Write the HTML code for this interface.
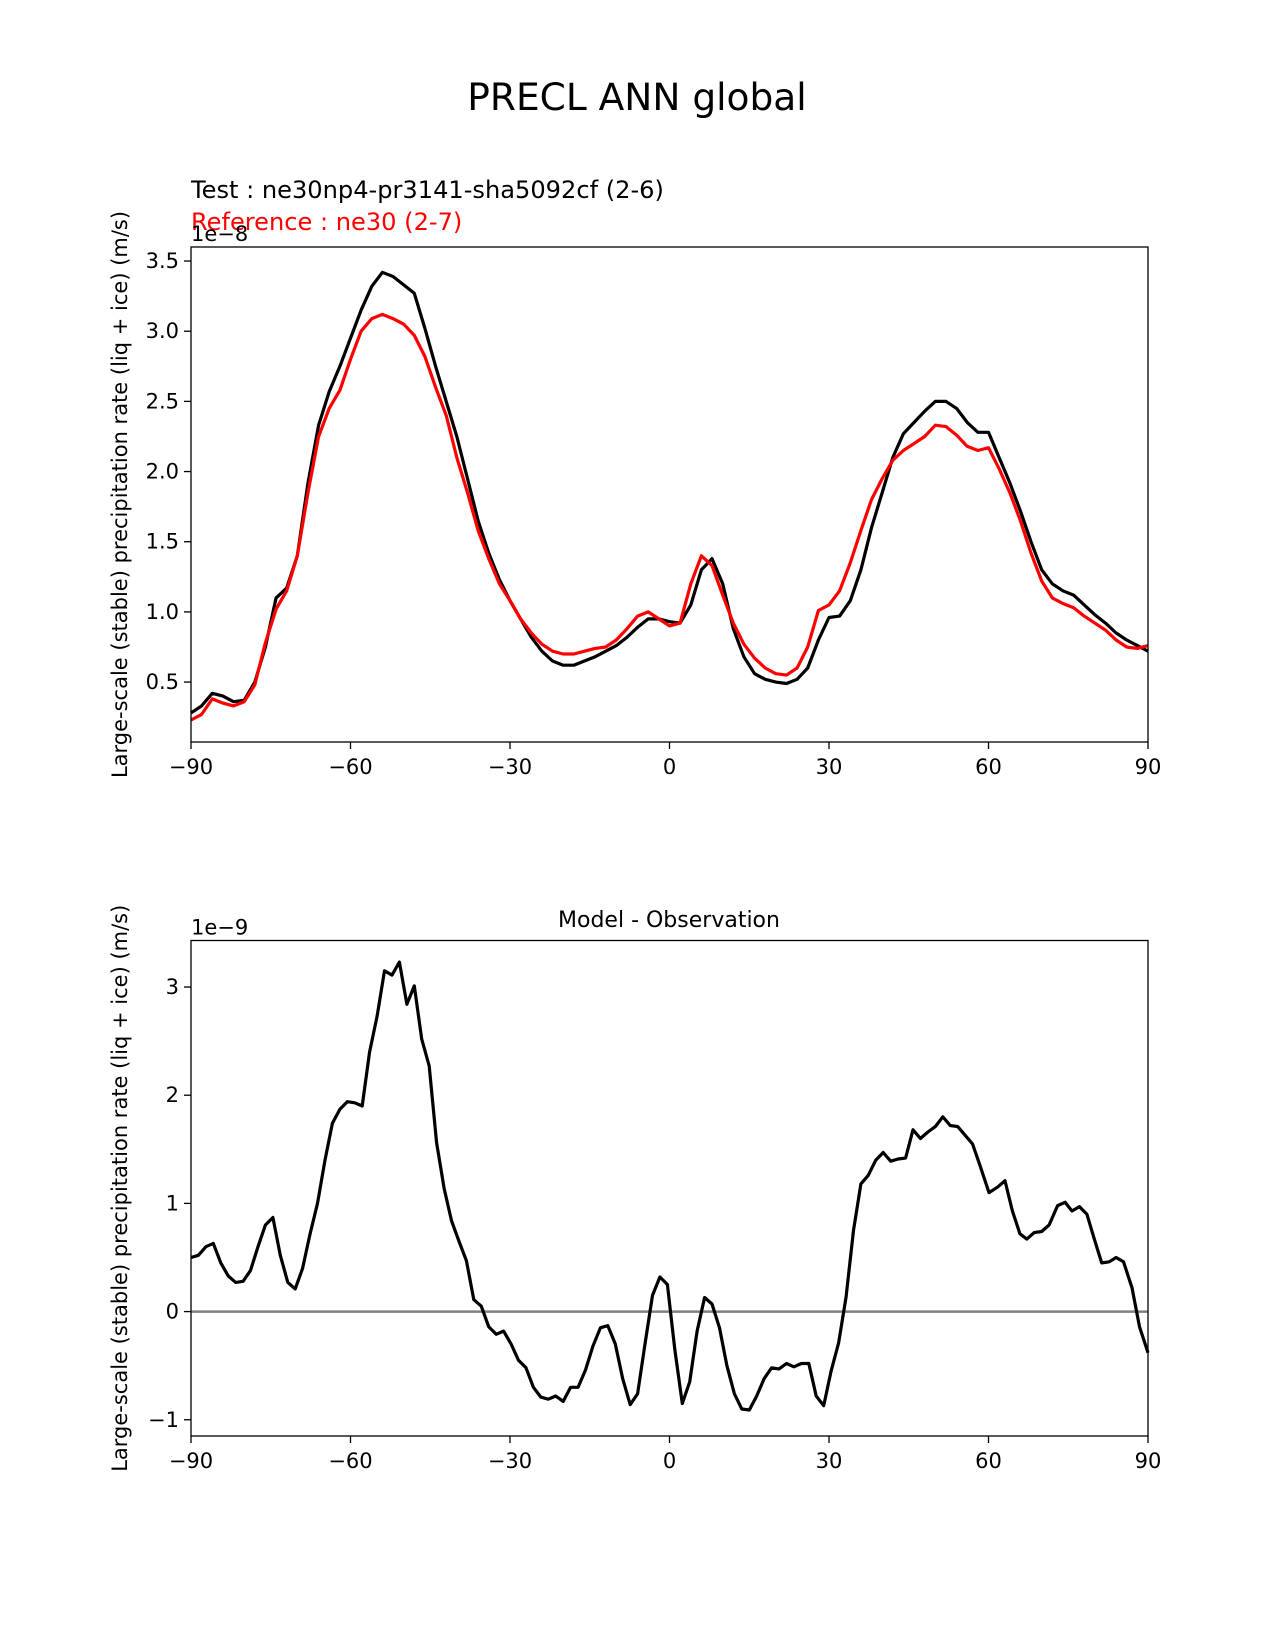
<!DOCTYPE html>
<html><head><meta charset="utf-8"><style>
html,body{margin:0;padding:0;background:#fff;}
svg{display:block;font-family:"DejaVu Sans","Liberation Sans",sans-serif;}
</style></head><body>
<svg id="fig" width="1275" height="1650" viewBox="0 0 1275 1650" xmlns="http://www.w3.org/2000/svg">
<text x="637" y="110" font-size="37.5" text-anchor="middle">PRECL ANN global</text>
<text x="191" y="198" font-size="24.1">Test : ne30np4-pr3141-sha5092cf (2-6)</text>
<text x="191" y="230" font-size="24.1" fill="#ff0000">Reference : ne30 (2-7)</text>
<text x="669" y="927" font-size="22" text-anchor="middle">Model - Observation</text>
<g id="top"></g>
<g id="bot"></g>
</svg>
<script>
const latGrid = [-90,-88,-86,-84,-82,-80,-78,-76,-74,-72,-70,-68,-66,-64,-62,-60,-58,-56,-54,-52,-50,-48,-46,-44,-42,-40,-38,-36,-34,-32,-30,-28,-26,-24,-22,-20,-18,-16,-14,-12,-10,-8,-6,-4,-2,0,2,4,6,8,10,12,14,16,18,20,22,24,26,28,30,32,34,36,38,40,42,44,46,48,50,52,54,56,58,60,62,64,66,68,70,72,74,76,78,80,82,84,86,88,90];
const testVals = [0.28,0.33,0.42,0.40,0.36,0.37,0.50,0.75,1.10,1.17,1.40,1.92,2.33,2.57,2.75,2.95,3.15,3.32,3.42,3.39,3.33,3.27,3.02,2.75,2.50,2.25,1.95,1.65,1.42,1.23,1.08,0.95,0.82,0.72,0.65,0.62,0.62,0.65,0.68,0.72,0.76,0.82,0.89,0.95,0.95,0.93,0.92,1.05,1.30,1.38,1.20,0.88,0.68,0.56,0.52,0.50,0.49,0.52,0.60,0.80,0.96,0.97,1.08,1.30,1.60,1.85,2.10,2.27,2.35,2.43,2.50,2.50,2.45,2.35,2.28,2.28,2.10,1.92,1.72,1.50,1.30,1.20,1.15,1.12,1.05,0.98,0.92,0.85,0.80,0.76,0.72];
const refVals = [0.23,0.27,0.38,0.35,0.33,0.36,0.48,0.78,1.02,1.15,1.40,1.85,2.25,2.45,2.58,2.80,3.00,3.09,3.12,3.09,3.05,2.97,2.82,2.60,2.40,2.10,1.85,1.58,1.38,1.20,1.08,0.95,0.85,0.77,0.72,0.70,0.70,0.72,0.74,0.75,0.80,0.88,0.97,1.00,0.95,0.90,0.92,1.20,1.40,1.33,1.12,0.92,0.77,0.67,0.60,0.56,0.55,0.60,0.75,1.01,1.05,1.15,1.35,1.58,1.80,1.95,2.08,2.15,2.20,2.25,2.33,2.32,2.26,2.18,2.15,2.17,2.02,1.85,1.65,1.42,1.22,1.10,1.06,1.03,0.97,0.92,0.87,0.80,0.75,0.74,0.76];
const diffLat = [-90,-88.6,-87.2,-85.8,-84.4,-83,-81.6,-80.2,-78.8,-77.4,-76,-74.6,-73.2,-71.8,-70.4,-69,-67.6,-66.2,-64.8,-63.4,-62,-60.6,-59.2,-57.8,-56.4,-55,-53.6,-52.2,-50.8,-49.4,-48,-46.6,-45.2,-43.8,-42.4,-41,-39.6,-38.2,-36.8,-35.4,-34,-32.6,-31.2,-29.8,-28.4,-27,-25.6,-24.2,-22.8,-21.4,-20,-18.6,-17.2,-15.8,-14.4,-13,-11.6,-10.2,-8.8,-7.4,-6,-4.6,-3.2,-1.8,-0.4,1,2.4,3.8,5.2,6.6,8,9.4,10.8,12.2,13.6,15,16.4,17.8,19.2,20.6,22,23.4,24.8,26.2,27.6,29,30.4,31.8,33.2,34.6,36,37.4,38.8,40.2,41.6,43,44.4,45.8,47.2,48.6,50,51.4,52.8,54.2,57,58.4,60.1,61.7,63.1,64.5,65.9,67.2,68.6,70,71.4,73,74.4,75.7,77.1,78.5,79.9,81.3,82.7,84,85.4,87,88.4,90];
const diffVals = [0.50,0.52,0.60,0.63,0.45,0.33,0.27,0.28,0.38,0.60,0.80,0.87,0.52,0.27,0.21,0.40,0.72,1.00,1.40,1.74,1.87,1.94,1.93,1.90,2.40,2.73,3.15,3.11,3.23,2.84,3.01,2.52,2.27,1.56,1.14,0.84,0.65,0.47,0.11,0.05,-0.14,-0.21,-0.18,-0.30,-0.45,-0.52,-0.70,-0.79,-0.81,-0.78,-0.83,-0.70,-0.70,-0.54,-0.32,-0.15,-0.13,-0.30,-0.62,-0.86,-0.76,-0.30,0.15,0.32,0.25,-0.35,-0.85,-0.65,-0.18,0.13,0.07,-0.15,-0.50,-0.76,-0.90,-0.91,-0.78,-0.62,-0.52,-0.53,-0.48,-0.51,-0.48,-0.48,-0.78,-0.87,-0.55,-0.29,0.13,0.75,1.18,1.26,1.40,1.47,1.39,1.41,1.42,1.68,1.60,1.66,1.71,1.80,1.72,1.71,1.55,1.35,1.10,1.15,1.21,0.93,0.72,0.67,0.73,0.74,0.80,0.98,1.01,0.93,0.97,0.90,0.67,0.45,0.46,0.50,0.46,0.22,-0.14,-0.38];
const xTicks = [-90,-60,-30,0,30,60,90];
const xTickLabels = ["\u221290","\u221260","\u221230","0","30","60","90"];
const topYTicks = [0.5,1.0,1.5,2.0,2.5,3.0,3.5];
const topYTickLabels = ["0.5","1.0","1.5","2.0","2.5","3.0","3.5"];
const botYTicks = [-1,0,1,2,3];
const botYTickLabels = ["\u22121","0","1","2","3"];

const NS="http://www.w3.org/2000/svg";
function mk(parent,tag,attrs,text){const e=document.createElementNS(NS,tag);for(const k in attrs)e.setAttribute(k,attrs[k]);if(text!==undefined)e.textContent=text;parent.appendChild(e);return e;}
const L=191,R=1148;
function xs(d){return L+(d+90)/180*(R-L);}

function panel(g,top,bottom,ymin,ymax,yt,ytl,expo,series){
  const ys=v=>bottom-(v-ymin)/(ymax-ymin)*(bottom-top);
  series.forEach(s=>{
    const n=Math.min(s.lat.length,s.vals.length);
    const pts=s.lat.slice(0,n).map((d,i)=>xs(d).toFixed(1)+","+ys(s.vals[i]).toFixed(1)).join(" ");
    const p=mk(g,"polyline",{points:pts,fill:"none",stroke:s.color,"stroke-width":s.w,"stroke-linejoin":"round"});
    
    
  });
  const fr=mk(g,"rect",{x:L,y:top,width:R-L,height:bottom-top,fill:"none",stroke:"#000","stroke-width":1.3});
  
  
  xTicks.forEach((t,i)=>{
    const x=xs(t);
    mk(g,"line",{x1:x,x2:x,y1:bottom,y2:bottom+7,stroke:"#000","stroke-width":1.3});
    const tl=mk(g,"text",{x:x,y:bottom+32,"font-size":21,"text-anchor":"middle"},xTickLabels[i]);
    
    
  });
  yt.forEach((t,i)=>{
    const y=ys(t);
    mk(g,"line",{x1:L-7,x2:L,y1:y,y2:y,stroke:"#000","stroke-width":1.3});
    const tl=mk(g,"text",{x:L-12,y:y+7,"font-size":21,"text-anchor":"end"},ytl[i]);
    
    
  });
  const ex=mk(g,"text",{x:L,y:top-6,"font-size":21},expo);
  
  
  const cy=(top+bottom)/2;
  const yl=mk(g,"text",{x:0,y:0,"font-size":21,"text-anchor":"middle",transform:"translate(127,"+cy+") rotate(-90)"},"Large-scale (stable) precipitation rate (liq + ice) (m/s)");
  
  
  return ys;
}
panel(document.getElementById("top"),247,742,0.073,3.6,topYTicks,topYTickLabels,"1e\u22128",[
  {lat:latGrid,vals:testVals,color:"#000",w:3.2,name:"test-line"},
  {lat:latGrid,vals:refVals,color:"#ff0000",w:3.2,name:"reference-line"}]);
const bg=document.getElementById("bot");
const ysb=v=>1436-(v+1.15)/4.58*(1436-940.5);
const zl=mk(bg,"line",{x1:L,x2:R,y1:ysb(0),y2:ysb(0),stroke:"#808080","stroke-width":2.5});


panel(bg,940.5,1436,-1.15,3.43,botYTicks,botYTickLabels,"1e\u22129",[
  {lat:diffLat,vals:diffVals,color:"#000",w:3.2,name:"difference-line"}]);
</script>
</body></html>
